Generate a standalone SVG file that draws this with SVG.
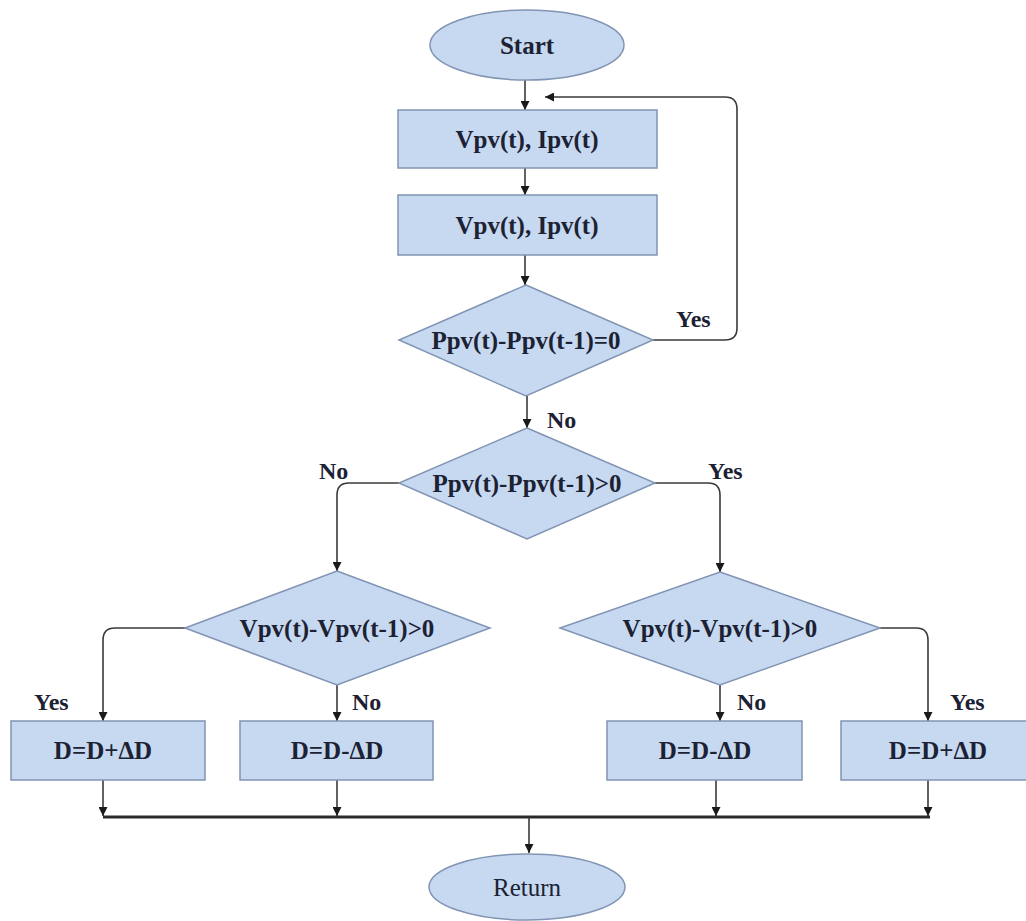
<svg xmlns="http://www.w3.org/2000/svg" width="1026" height="921" viewBox="0 0 1026 921">
<style>
.shape{fill:#c6d9f1;stroke:#8194b3;stroke-width:1.5}
.t{font-family:"Liberation Serif","Times New Roman",serif;font-size:25px;fill:#1c2233;text-anchor:middle;dominant-baseline:central}
.b{font-weight:bold}
.lbl{font-family:"Liberation Serif","Times New Roman",serif;font-size:24px;fill:#1c2233;font-weight:bold}
.c{fill:none;stroke:#3a3a3a;stroke-width:1.6}
.bus{fill:none;stroke:#2a2a2a;stroke-width:3.2}
</style>
<defs>
<marker id="ah" viewBox="0 0 10 10" refX="10" refY="5" markerWidth="9" markerHeight="9" markerUnits="userSpaceOnUse" orient="auto">
<path d="M0,0 L10,5 L0,10 z" fill="#1a1a1a"/>
</marker>
</defs>
<rect width="1026" height="921" fill="#ffffff"/>

<g id="connectors">
<path class="c" d="M525,80 V110" marker-end="url(#ah)"/>
<path class="c" d="M525,168 V195" marker-end="url(#ah)"/>
<path class="c" d="M525,255 V285" marker-end="url(#ah)"/>
<path class="c" d="M653,340 H725 Q737,340 737,328 V109 Q737,97 725,97 H545" marker-end="url(#ah)"/>
<path class="c" d="M527,396 V428" marker-end="url(#ah)"/>
<path class="c" d="M399,483 H349 Q337,483 337,495 V571" marker-end="url(#ah)"/>
<path class="c" d="M655,483 H708 Q720,483 720,495 V572" marker-end="url(#ah)"/>
<path class="c" d="M187,628 H115 Q103,628 103,640 V721" marker-end="url(#ah)"/>
<path class="c" d="M337,685 V721" marker-end="url(#ah)"/>
<path class="c" d="M720,685 V721" marker-end="url(#ah)"/>
<path class="c" d="M880,628 H916 Q928,628 928,640 V721" marker-end="url(#ah)"/>
<path class="c" d="M103,780 V816" marker-end="url(#ah)"/>
<path class="c" d="M337,780 V816" marker-end="url(#ah)"/>
<path class="c" d="M716,780 V816" marker-end="url(#ah)"/>
<path class="c" d="M928,780 V816" marker-end="url(#ah)"/>
<path class="bus" d="M103,817 H930"/>
<path class="c" d="M529,817 V853" marker-end="url(#ah)"/>
<text class="lbl" x="676" y="327">Yes</text>
<text class="lbl" x="547" y="428">No</text>
<text class="lbl" x="319" y="479">No</text>
<text class="lbl" x="708" y="479">Yes</text>
<text class="lbl" x="34" y="710">Yes</text>
<text class="lbl" x="352" y="710">No</text>
<text class="lbl" x="737" y="710">No</text>
<text class="lbl" x="950" y="710">Yes</text>
</g>

<g id="start">
<ellipse class="shape" cx="527" cy="45" rx="97" ry="35"/>
<text class="t b" x="527" y="45">Start</text>
</g>
<g id="measure1">
<rect class="shape" x="398" y="110" width="259" height="58"/>
<text class="t b" x="527" y="139">Vpv(t), Ipv(t)</text>
</g>
<g id="measure2">
<rect class="shape" x="398" y="195" width="259" height="60"/>
<text class="t b" x="527" y="225">Vpv(t), Ipv(t)</text>
</g>
<g id="dec1">
<polygon class="shape" points="526,285 653,340 526,396 399,340"/>
<text class="t b" x="526" y="340">Ppv(t)-Ppv(t-1)=0</text>
</g>
<g id="dec2">
<polygon class="shape" points="527,428 655,483 527,539 399,483"/>
<text class="t b" x="527" y="483">Ppv(t)-Ppv(t-1)&gt;0</text>
</g>
<g id="dec3">
<polygon class="shape" points="337,571 490,628 337,685 185,628"/>
<text class="t b" x="337" y="628">Vpv(t)-Vpv(t-1)&gt;0</text>
</g>
<g id="dec4">
<polygon class="shape" points="720,572 880,628 720,685 560,628"/>
<text class="t b" x="720" y="628">Vpv(t)-Vpv(t-1)&gt;0</text>
</g>
<g id="box1">
<rect class="shape" x="11" y="721" width="194" height="59"/>
<text class="t b" x="103" y="750">D=D+ΔD</text>
</g>
<g id="box2">
<rect class="shape" x="240" y="721" width="193" height="59"/>
<text class="t b" x="337" y="750">D=D-ΔD</text>
</g>
<g id="box3">
<rect class="shape" x="607" y="721" width="195" height="59"/>
<text class="t b" x="705" y="750">D=D-ΔD</text>
</g>
<g id="box4">
<rect class="shape" x="841" y="721" width="194" height="59"/>
<text class="t b" x="938" y="750">D=D+ΔD</text>
</g>
<g id="return">
<ellipse class="shape" cx="527" cy="887" rx="98" ry="33"/>
<text class="t" x="527" y="887">Return</text>
</g>
</svg>
